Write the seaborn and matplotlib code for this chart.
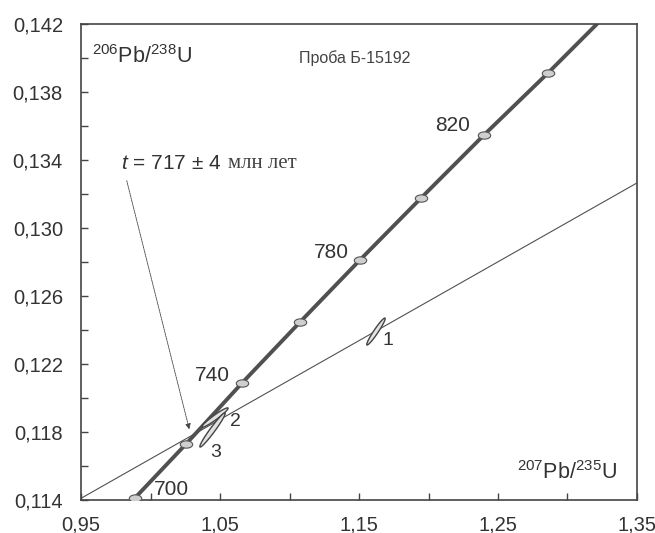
import numpy as np
import pandas as pd
import seaborn as sns
import matplotlib.pyplot as plt
from matplotlib.path import Path

# concordia age marks
ages = [700, 720, 740, 760, 780, 800, 820, 840]
conc_x = [0.9888, 1.0255, 1.0658, 1.1076, 1.1507, 1.1946, 1.2399, 1.2860]
conc_y = [0.11412, 0.11729, 0.12088, 0.12447, 0.12812, 0.13176, 0.13547, 0.13912]
# concordia curve ends
curve_x = [0.9874] + conc_x + [1.3212]
curve_y = [0.1140] + conc_y + [0.1420]

# discordia
disc_x = [0.95, 1.35]
disc_y = [0.1141, 0.13265]

# error ellipses: centre, half major axis (data units), half width (px)
ell_labels = ["1", "2", "3"]
ell_x = [1.1622, 1.0464, 1.0446]
ell_y = [0.12391, 0.11885, 0.11812]
ell_dx = [0.0065, 0.00935, 0.0090]
ell_dy = [0.00079, 0.00056, 0.0010]
ell_w = [2.2, 2.3, 2.5]
ell_lab_x = [1.1711, 1.0611, 1.0471]
ell_lab_y = [0.12341, 0.11859, 0.11682]

# labelled ages
age_lab = ["700", "740", "780", "820"]
age_lab_x = [1.0150, 1.0442, 1.1299, 1.2176]
age_lab_y = [0.11459, 0.12135, 0.12853, 0.13600]

xticks = [0.95, 1.00, 1.05, 1.10, 1.15, 1.20, 1.25, 1.30, 1.35]
yticks = [0.114, 0.116, 0.118, 0.120, 0.122, 0.124, 0.126, 0.128, 0.130,
          0.132, 0.134, 0.136, 0.138, 0.140, 0.142]

sns.set_style("white")
plt.rcParams["font.family"] = ["Liberation Sans", "DejaVu Sans"]
plt.rcParams["mathtext.fontset"] = "custom"
plt.rcParams["mathtext.rm"] = "Liberation Sans"
plt.rcParams["mathtext.it"] = "Liberation Sans:italic"

fig = plt.figure(figsize=(6.55, 5.33), dpi=100)
ax = fig.add_axes([0.1237, 0.0619, 0.8488, 0.8931])
ax.set_xlim(0.95, 1.35)
ax.set_ylim(0.114, 0.142)

dark = "#505050"
txt = "#333333"

sns.lineplot(x=disc_x, y=disc_y, ax=ax, color=dark, linewidth=0.8, sort=False)
sns.lineplot(x=curve_x, y=curve_y, ax=ax, color=dark, linewidth=2.8, sort=False)

# oval markers on concordia
circ = Path.unit_circle()
oval = Path(circ.vertices * np.array([1.7, 1.0]), circ.codes)
sns.scatterplot(x=conc_x, y=conc_y, ax=ax, marker=oval, s=80,
                color="#cfcfcf", edgecolor="#555555", linewidth=0.8, zorder=5)

# error ellipses, built in pixel space so the width stays perpendicular
trans = ax.transData
t = np.linspace(0, 2 * np.pi, 100)
for cx, cy, dx, dy, w in zip(ell_x, ell_y, ell_dx, ell_dy, ell_w):
    c = trans.transform((cx, cy))
    e = trans.transform((cx + dx, cy + dy)) - c
    n = np.array([-e[1], e[0]]) / np.hypot(*e) * w
    pts = c + np.outer(np.cos(t), e) + np.outer(np.sin(t), n)
    pts = trans.inverted().transform(pts)
    ax.fill(pts[:, 0], pts[:, 1], facecolor="#e2e2e2", edgecolor="#444444",
            linewidth=1.0, zorder=4)

for lab, x, y in zip(ell_labels, ell_lab_x, ell_lab_y):
    ax.text(x, y, lab, fontsize=14, color=txt, ha="center", va="center")

for lab, x, y in zip(age_lab, age_lab_x, age_lab_y):
    ax.text(x, y, lab, fontsize=15, color=txt, ha="center", va="center")

ax.text(0.9579, 0.14006, r"$^{206}$Pb/$^{238}$U", fontsize=15.5, color=txt,
        ha="left", va="center")
ax.text(1.3356, 0.11559, r"$^{207}$Pb/$^{235}$U", fontsize=15.5, color=txt,
        ha="right", va="center")
ax.text(1.1471, 0.13999, "Проба Б-15192", fontsize=11.5, color="#444444",
        ha="center", va="center")

t1 = ax.text(0.9788, 0.13345, r"$\it{t}$ = 717 ± 4", fontsize=15, color=txt,
             ha="left", va="baseline")
ax.annotate("млн лет", xy=(1, 0), xycoords=t1, xytext=(5, 0),
            textcoords="offset points", fontsize=15, color="#444444",
            family=["Liberation Serif", "DejaVu Serif"], ha="left", va="bottom")
ax.annotate("", xy=(1.0284, 0.1180), xytext=(0.9824, 0.13294),
            arrowprops=dict(arrowstyle="-|>", color="#444444", lw=0.6,
                            linestyle=(0, (2, 1)), mutation_scale=8))

ax.set_xticks(xticks)
ax.set_xticklabels([f"{v:.2f}".replace(".", ",") if i % 2 == 0 else ""
                    for i, v in enumerate(xticks)])
ax.set_yticks(yticks)
ax.set_yticklabels([f"{v:.3f}".replace(".", ",") if i % 2 == 0 else ""
                    for i, v in enumerate(yticks)])
ax.tick_params(direction="in", length=5, width=1, colors="#444444",
               labelsize=14.5, labelcolor=txt, bottom=True, left=True,
               top=False, right=False)
ax.tick_params(axis="x", pad=11)
ax.tick_params(axis="y", pad=13)
for s in ax.spines.values():
    s.set_color("#444444")
    s.set_linewidth(1.2)

plt.savefig("out.png", dpi=100)
plt.close()
